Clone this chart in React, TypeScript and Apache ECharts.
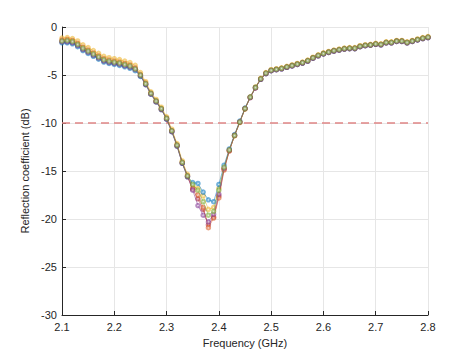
import React, { useEffect, useRef } from "react";
import * as echarts from "echarts";

const frequencies = [
  2.10, 2.11, 2.12, 2.13, 2.14, 2.15, 2.16, 2.17, 2.18, 2.19,
  2.20, 2.21, 2.22, 2.23, 2.24, 2.25, 2.26, 2.27, 2.28, 2.29,
  2.30, 2.31, 2.32, 2.33, 2.34, 2.35, 2.36, 2.37, 2.38, 2.39,
  2.40, 2.41, 2.42, 2.43, 2.44, 2.45, 2.46, 2.47, 2.48, 2.49,
  2.50, 2.51, 2.52, 2.53, 2.54, 2.55, 2.56, 2.57, 2.58, 2.59,
  2.60, 2.61, 2.62, 2.63, 2.64, 2.65, 2.66, 2.67, 2.68, 2.69,
  2.70, 2.71, 2.72, 2.73, 2.74, 2.75, 2.76, 2.77, 2.78, 2.79,
  2.80,
];

const seriesBlue = [
  -1.65, -1.65, -1.75, -2.05, -2.45, -2.75, -3.05, -3.35, -3.65, -3.8,
  -3.9, -4.0, -4.15, -4.3, -4.55, -5.15, -6.0, -7.0, -7.8, -8.6,
  -9.6, -10.9, -12.4, -14.2, -15.6, -16.2, -16.3, -17.2, -18.0, -18.2,
  -16.4, -14.4, -12.7, -11.2, -9.8, -8.45, -7.3, -6.3, -5.45, -4.85,
  -4.55, -4.45, -4.35, -4.2, -4.05, -3.9, -3.75, -3.55, -3.25, -3.0,
  -2.8, -2.65, -2.5, -2.4, -2.3, -2.25, -2.25, -2.05, -1.95, -1.9,
  -1.8, -1.85, -1.65, -1.65, -1.5, -1.5, -1.65, -1.5, -1.35, -1.2,
  -1.1,
];

const seriesOrange = [
  -1.35, -1.3, -1.4, -1.7, -2.1, -2.4, -2.7, -3.0, -3.3, -3.45,
  -3.55, -3.65, -3.8, -3.95, -4.25, -4.95, -5.85, -6.9, -7.7, -8.5,
  -9.5, -10.8, -12.3, -14.1, -15.5, -16.8, -17.5, -18.8, -20.9, -19.9,
  -17.8, -14.9, -12.9, -11.3, -9.9, -8.5, -7.3, -6.3, -5.4, -4.8,
  -4.5, -4.4, -4.3, -4.15, -4.0, -3.85, -3.7, -3.5, -3.2, -2.95,
  -2.75, -2.6, -2.45, -2.35, -2.25, -2.2, -2.2, -2.0, -1.9, -1.85,
  -1.75, -1.8, -1.6, -1.6, -1.45, -1.45, -1.6, -1.45, -1.3, -1.15,
  -1.05,
];

const seriesYellow = [
  -1.15, -1.1, -1.2, -1.45, -1.85, -2.15, -2.45, -2.75, -3.05, -3.2,
  -3.3, -3.4, -3.55, -3.7, -4.0, -4.75, -5.7, -6.75, -7.55, -8.35,
  -9.35, -10.65, -12.15, -13.95, -15.35, -16.5, -16.8, -17.6, -19.0, -18.8,
  -16.8, -14.7, -12.85, -11.35, -9.95, -8.55, -7.3, -6.25, -5.35, -4.75,
  -4.45, -4.35, -4.25, -4.1, -3.95, -3.8, -3.65, -3.45, -3.15, -2.9,
  -2.7, -2.55, -2.4, -2.3, -2.2, -2.15, -2.15, -1.95, -1.85, -1.8,
  -1.7, -1.75, -1.55, -1.55, -1.4, -1.4, -1.55, -1.4, -1.25, -1.1,
  -1.0,
];

const seriesPurple = [
  -1.5, -1.5, -1.6, -1.9, -2.3, -2.6, -2.9, -3.2, -3.5, -3.65,
  -3.75, -3.85, -4.0, -4.15, -4.4, -5.05, -5.95, -6.95, -7.75, -8.55,
  -9.55, -10.85, -12.35, -14.15, -15.55, -17.0, -18.6, -19.6, -20.3, -19.5,
  -17.4, -14.7, -12.8, -11.3, -9.9, -8.5, -7.35, -6.35, -5.45, -4.85,
  -4.55, -4.45, -4.35, -4.2, -4.05, -3.9, -3.75, -3.55, -3.25, -3.0,
  -2.8, -2.65, -2.5, -2.4, -2.3, -2.25, -2.25, -2.05, -1.95, -1.9,
  -1.8, -1.85, -1.65, -1.65, -1.5, -1.5, -1.65, -1.5, -1.35, -1.2,
  -1.1,
];

const seriesGreen = [
  -1.45, -1.4, -1.5, -1.8, -2.2, -2.5, -2.8, -3.1, -3.4, -3.55,
  -3.65, -3.75, -3.9, -4.05, -4.35, -5.0, -5.9, -6.9, -7.7, -8.5,
  -9.5, -10.8, -12.3, -14.1, -15.5, -16.4, -17.0, -18.2, -19.6, -19.2,
  -17.0, -14.6, -12.8, -11.3, -9.9, -8.5, -7.3, -6.3, -5.4, -4.8,
  -4.5, -4.4, -4.3, -4.15, -4.0, -3.85, -3.7, -3.5, -3.2, -2.95,
  -2.75, -2.6, -2.45, -2.35, -2.25, -2.2, -2.2, -2.0, -1.9, -1.85,
  -1.75, -1.8, -1.6, -1.6, -1.45, -1.45, -1.6, -1.45, -1.3, -1.15,
  -1.05,
];

const seriesDarkRed = [
  -1.55, -1.55, -1.65, -1.95, -2.35, -2.65, -2.95, -3.25, -3.55, -3.7,
  -3.8, -3.9, -4.05, -4.2, -4.45, -5.1, -6.0, -7.0, -7.8, -8.6,
  -9.6, -10.9, -12.4, -14.2, -15.6, -16.9, -17.9, -19.0, -20.6, -19.8,
  -17.6, -14.8, -12.9, -11.3, -9.9, -8.5, -7.35, -6.35, -5.45, -4.85,
  -4.55, -4.45, -4.35, -4.2, -4.05, -3.9, -3.75, -3.55, -3.25, -3.0,
  -2.8, -2.65, -2.5, -2.4, -2.3, -2.25, -2.25, -2.05, -1.95, -1.9,
  -1.8, -1.85, -1.65, -1.65, -1.5, -1.5, -1.65, -1.5, -1.35, -1.2,
  -1.1,
];

const thresholdDb = -10;
const xTicks = { min: 2.1, max: 2.8, interval: 0.1 };
const yTicks = { min: -30, max: 0, interval: 5 };

const curves = [
  { name: "S11 a", color: "#EDB120", values: seriesYellow },
  { name: "S11 f", color: "#A2142F", values: seriesDarkRed },
  { name: "S11 b", color: "#0072BD", values: seriesBlue },
  { name: "S11 c", color: "#D95319", values: seriesOrange },
  { name: "S11 e", color: "#7E2F8E", values: seriesPurple },
  { name: "S11 d", color: "#77AC30", values: seriesGreen },
];

const FONT = "'Liberation Sans', Arial, Helvetica, sans-serif";
const AXIS_COLOR = "#262626";

export default function App() {
  const ref = useRef<HTMLDivElement>(null);

  useEffect(() => {
    if (!ref.current) return;
    const chart = echarts.init(ref.current, undefined, { renderer: "svg" });
    const option: any = {
      animation: false,
      backgroundColor: "#ffffff",
      grid: { left: 62, top: 27, right: 46, bottom: 40, containLabel: false },
      xAxis: {
        type: "value",
        min: xTicks.min,
        max: xTicks.max,
        interval: xTicks.interval,
        name: "Frequency (GHz)",
        nameLocation: "middle",
        nameGap: 22,
        nameTextStyle: { color: AXIS_COLOR, fontFamily: FONT, fontSize: 11 },
        axisLine: { show: true, onZero: false, lineStyle: { color: AXIS_COLOR, width: 1 } },
        axisTick: { show: true, inside: true, length: 4, lineStyle: { color: AXIS_COLOR } },
        axisLabel: {
          color: AXIS_COLOR,
          fontFamily: FONT,
          fontSize: 11,
          margin: 6,
          formatter: (v: number) => v.toFixed(1),
        },
        splitLine: { show: true, lineStyle: { color: "#e6e6e6", width: 1 } },
      },
      yAxis: {
        type: "value",
        min: yTicks.min,
        max: yTicks.max,
        interval: yTicks.interval,
        name: "Reflection coefficient (dB)",
        nameLocation: "middle",
        nameGap: 18,
        nameRotate: 90,
        nameTextStyle: { color: AXIS_COLOR, fontFamily: FONT, fontSize: 11 },
        axisLine: { show: true, onZero: false, lineStyle: { color: AXIS_COLOR, width: 1 } },
        axisTick: { show: true, inside: true, length: 4, lineStyle: { color: AXIS_COLOR } },
        axisLabel: { color: AXIS_COLOR, fontFamily: FONT, fontSize: 11, margin: 5 },
        splitLine: { show: true, lineStyle: { color: "#e6e6e6", width: 1 } },
      },
      series: [
        {
          type: "line",
          name: "threshold",
          data: [
            [xTicks.min, thresholdDb],
            [xTicks.max, thresholdDb],
          ],
          showSymbol: false,
          symbol: "none",
          lineStyle: { color: "#e08585", width: 1.5, type: [8, 5] },
          z: 1,
        },
        ...curves.map((c, i) => ({
          type: "line",
          name: c.name,
          data: frequencies.map((f, k) => [f, c.values[k]]),
          symbol: "emptyCircle",
          symbolSize: 3.5,
          showAllSymbol: true,
          lineStyle: { color: c.color, width: 0.9, opacity: 0.55 },
          itemStyle: { color: c.color, borderColor: c.color, borderWidth: 1.1, opacity: 0.55 },
          z: 2 + i,
        })),
      ],
    };
    chart.setOption(option);
    return () => chart.dispose();
  }, []);

  return (
    <div
      ref={ref}
      style={{ position: "absolute", left: 0, top: 0, width: 474, height: 355 }}
    />
  );
}
